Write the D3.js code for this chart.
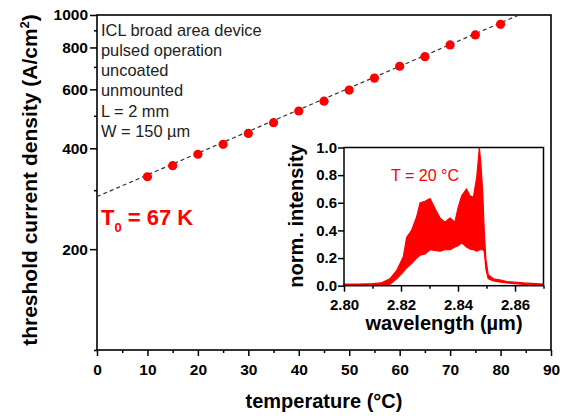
<!DOCTYPE html>
<meta charset="utf-8" />
<script src="https://d3js.org/d3.v7.min.js"></script>
<style>
  body { margin: 0; background: #fff; }
  svg text { font-family: Arial, "Liberation Sans", sans-serif; }
</style>
<div id="chart"></div>
<script>
  // threshold current density vs temperature
  const temps = [10, 15, 20, 25, 30, 35, 40, 45, 50, 55, 60, 65, 70, 75, 80];
  const jth = [329, 355, 384, 411, 443, 477, 517, 553, 597, 648, 703, 751, 814, 872, 938];
  // exponential fit J = J0 * exp(T / T0)
  const fitJ0 = 287, fitT0 = 67;

  const xTicks = [0, 10, 20, 30, 40, 50, 60, 70, 80, 90];
  const yTicks = [200, 400, 600, 800, 1000];
  const yMinor = [100, 300, 500, 700, 900];
  const infoLines = ["ICL broad area device", "pulsed operation", "uncoated", "unmounted", "L = 2 mm", "W = 150 \u00b5m"];

  // inset: emission spectrum at 20 °C (upper / lower envelope of the mode comb)
  const specWl = [2.800, 2.805, 2.810, 2.813, 2.8161, 2.8185, 2.8208, 2.822, 2.8237, 2.8255, 2.8267, 2.8284, 2.8302, 2.8319, 2.8337,
    2.8354, 2.8372, 2.8389, 2.8401, 2.8413, 2.843, 2.8442, 2.8454, 2.8466, 2.8475, 2.848, 2.8487, 2.8492, 2.8498, 2.8506,
    2.8524, 2.855, 2.8571, 2.863, 2.870];
  const specHi = [0.012, 0.012, 0.015, 0.02, 0.05, 0.11, 0.21, 0.35, 0.40, 0.50, 0.60, 0.61, 0.63, 0.56, 0.49,
    0.46, 0.49, 0.46, 0.57, 0.65, 0.70, 0.65, 0.64, 0.79, 1.0, 0.89, 0.67, 0.40, 0.19, 0.08,
    0.05, 0.04, 0.03, 0.02, 0.012];
  const specLo = [0.004, 0.004, 0.006, 0.01, 0.01, 0.05, 0.10, 0.13, 0.16, 0.20, 0.22, 0.23, 0.26, 0.255, 0.25,
    0.26, 0.26, 0.28, 0.29, 0.31, 0.28, 0.265, 0.26, 0.25, 0.26, 0.26, 0.26, 0.25, 0.12, 0.05,
    0.035, 0.025, 0.02, 0.01, 0.004];
  const inXTicks = [2.80, 2.82, 2.84, 2.86];
  const inXMinor = [2.81, 2.83, 2.85, 2.87];
  const inYTicks = [0, 0.2, 0.4, 0.6, 0.8, 1.0];

  const W = 563, H = 416;
  const svg = d3.select("#chart").append("svg").attr("width", W).attr("height", H);

  const x = d3.scaleLinear().domain([0, 90]).range([97, 551]);
  const y = d3.scaleLog().domain([100, 1000]).range([350, 15]);

  svg.append("clipPath").attr("id", "clip")
    .append("rect").attr("x", 97).attr("y", 15).attr("width", 454).attr("height", 335);

  // axes
  const gx = svg.append("g").attr("transform", "translate(0,350)");
  gx.call(d3.axisBottom(x).tickValues(xTicks).tickSize(6).tickFormat(d3.format("d")));
  gx.append("g").call(d3.axisBottom(x).tickValues(d3.range(5, 90, 10)).tickSize(3).tickFormat(""));
  const gy = svg.append("g").attr("transform", "translate(97,0)");
  gy.call(d3.axisLeft(y).tickValues(yTicks).tickSize(7).tickFormat(d3.format("d")));
  gy.append("g").call(d3.axisLeft(y).tickValues(yMinor).tickSize(3).tickFormat(""));
  svg.selectAll(".domain").remove();
  svg.selectAll(".tick line").attr("stroke", "#000").attr("stroke-width", 1.5);
  svg.selectAll(".tick text").attr("font-size", 15.5).attr("font-weight", "bold").attr("fill", "#000")
    .attr("font-family", "Arial, 'Liberation Sans', sans-serif");
  gx.selectAll(".tick text").attr("dy", "1.0em");
  gy.selectAll(".tick text").attr("x", -9);

  svg.append("rect").attr("x", 97).attr("y", 15).attr("width", 454).attr("height", 335)
    .attr("fill", "none").attr("stroke", "#000").attr("stroke-width", 1.6);

  // fit line
  const fitLine = d3.line().x(d => x(d)).y(d => y(fitJ0 * Math.exp(d / fitT0)));
  svg.append("path").attr("clip-path", "url(#clip)")
    .attr("d", fitLine(d3.range(0, 91, 1)))
    .attr("fill", "none").attr("stroke", "#333").attr("stroke-width", 1.2).attr("stroke-dasharray", "4,3");

  svg.append("g").selectAll("circle").data(temps).join("circle")
    .attr("cx", d => x(d)).attr("cy", (d, i) => y(jth[i])).attr("r", 4.6).attr("fill", "#ff0000");

  // labels
  svg.append("text").attr("x", 324).attr("y", 408).attr("text-anchor", "middle")
    .attr("font-size", 20).attr("font-weight", "bold").text("temperature (\u00b0C)");
  const yt = svg.append("text").attr("transform", "translate(37,180) rotate(-90)").attr("text-anchor", "middle")
    .attr("font-size", 21).attr("font-weight", "bold");
  yt.append("tspan").text("threshold current density (A/cm");
  yt.append("tspan").attr("font-size", 13).attr("dy", -8).text("2");
  yt.append("tspan").attr("dy", 8).text(")");

  svg.append("g").selectAll("text").data(infoLines).join("text")
    .attr("x", 101).attr("y", (d, i) => 35.5 + i * 20.3)
    .attr("font-size", 16.4).attr("fill", "#222").text(d => d);

  const t0 = svg.append("text").attr("x", 101).attr("y", 225).attr("fill", "#ff0000")
    .attr("font-size", 22).attr("font-weight", "bold");
  t0.append("tspan").text("T");
  t0.append("tspan").attr("font-size", 13).attr("dy", 7).text("0");
  t0.append("tspan").attr("dy", -7).text(" = 67 K");

  // inset
  const ix = d3.scaleLinear().domain([2.80, 2.87]).range([344, 543.5]);
  const iy = d3.scaleLinear().domain([0, 1]).range([285.7, 147.5]);
  const inset = svg.append("g");
  inset.append("rect").attr("x", 344).attr("y", 147.5).attr("width", 199.5).attr("height", 138.2).attr("fill", "#fff");

  const area = d3.area().x((d, i) => ix(specWl[i])).y0((d, i) => iy(specLo[i])).y1((d, i) => iy(specHi[i]));
  inset.append("path").attr("d", area(specWl))
    .attr("fill", "#ff0000").attr("stroke", "#ff0000").attr("stroke-width", 1.2).attr("stroke-linejoin", "round");

  const ixg = inset.append("g").attr("transform", "translate(0,285.7)");
  ixg.call(d3.axisBottom(ix).tickValues(inXTicks).tickSize(6).tickFormat(d3.format(".2f")));
  ixg.append("g").call(d3.axisBottom(ix).tickValues(inXMinor).tickSize(3).tickFormat(""));
  const iyg = inset.append("g").attr("transform", "translate(344,0)");
  iyg.call(d3.axisLeft(iy).tickValues(inYTicks).tickSize(6).tickFormat(d3.format(".1f")));
  inset.selectAll(".domain").remove();
  inset.selectAll(".tick line").attr("stroke", "#000").attr("stroke-width", 1.5);
  inset.selectAll(".tick text").attr("font-size", 15).attr("font-weight", "bold").attr("fill", "#000")
    .attr("font-family", "Arial, 'Liberation Sans', sans-serif");
  ixg.selectAll(".tick text").attr("dy", "1.0em");
  iyg.selectAll(".tick text").attr("x", -7);

  inset.append("rect").attr("x", 344).attr("y", 147.5).attr("width", 199.5).attr("height", 138.2)
    .attr("fill", "none").attr("stroke", "#000").attr("stroke-width", 1.5);

  inset.append("text").attr("x", 444).attr("y", 330).attr("text-anchor", "middle")
    .attr("font-size", 20).attr("font-weight", "bold").text("wavelength (\u00b5m)");
  inset.append("text").attr("transform", "translate(303,216) rotate(-90)").attr("text-anchor", "middle")
    .attr("font-size", 20).attr("font-weight", "bold").text("norm. intensity");
  inset.append("text").attr("x", 425).attr("y", 181).attr("text-anchor", "middle")
    .attr("font-size", 16).attr("fill", "#ff0000").text("T = 20 \u00b0C");
</script>
